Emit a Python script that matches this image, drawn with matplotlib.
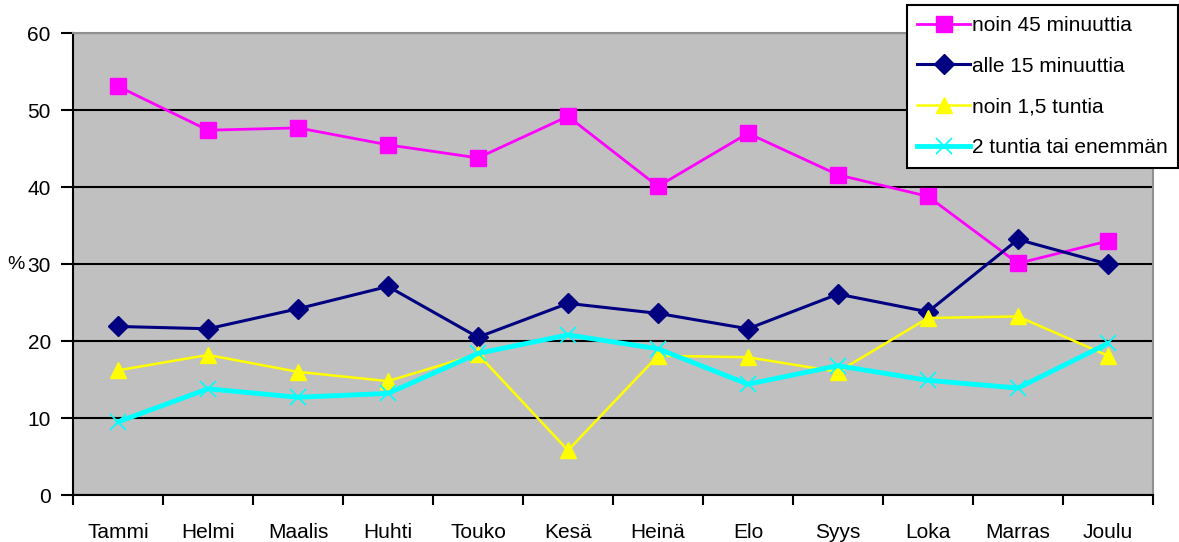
import matplotlib.pyplot as plt

plt.rcParams['font.family'] = ['Liberation Sans', 'DejaVu Sans']

months = ['Tammi', 'Helmi', 'Maalis', 'Huhti', 'Touko', 'Kesä',
          'Heinä', 'Elo', 'Syys', 'Loka', 'Marras', 'Joulu']

noin_45_min = [53.1, 47.4, 47.7, 45.5, 43.8, 49.2, 40.1, 47.0, 41.6, 38.8, 30.1, 33.0]
alle_15_min = [21.9, 21.6, 24.2, 27.1, 20.5, 24.9, 23.6, 21.6, 26.1, 23.8, 33.2, 30.0]
noin_15_h = [16.2, 18.2, 16.0, 14.8, 18.3, 5.8, 18.1, 17.9, 16.0, 23.0, 23.2, 18.1]
yli_2_h = [9.5, 13.8, 12.7, 13.2, 18.4, 20.8, 19.0, 14.4, 16.8, 14.9, 13.9, 19.7]

fig = plt.figure(figsize=(11.79, 5.42), dpi=100)
ax = fig.add_axes([0.0619, 0.0867, 0.916, 0.852])
ax.set_facecolor('#C0C0C0')

x = list(range(len(months)))
ax.plot(x, noin_45_min, color='#FF00FF', lw=2.0, marker='s', ms=11,
        label='noin 45 minuuttia')
ax.plot(x, alle_15_min, color='#000080', lw=2.2, marker='D', ms=10,
        label='alle 15 minuuttia')
ax.plot(x, noin_15_h, color='#FFFF00', lw=1.8, marker='^', ms=11,
        label='noin 1,5 tuntia')
ax.plot(x, yli_2_h, color='#00FFFF', lw=3.5, marker='x', ms=11, mew=1.2,
        label='2 tuntia tai enemmän')

ax.set_xlim(-0.5, len(months) - 0.5)
ax.set_ylim(0, 60)
ax.set_yticks(range(0, 61, 10))
ax.yaxis.grid(True, color='black', lw=1.5)
ax.set_axisbelow(True)

# month names centred, tick marks on the category borders
ax.set_xticks(x)
ax.set_xticklabels(months, fontsize=15)
ax.tick_params(axis='x', which='major', length=0, pad=20)
ax.set_xticks([i - 0.5 for i in range(len(months) + 1)], minor=True)
ax.tick_params(axis='x', which='minor', length=7, width=1.5, color='black')
ax.tick_params(axis='y', labelsize=15, length=9, width=1.5, pad=7)

for side in ['left', 'bottom']:
    ax.spines[side].set_color('black')
    ax.spines[side].set_linewidth(1.5)
for side in ['top', 'right']:
    ax.spines[side].set_color('#909090')
    ax.spines[side].set_linewidth(1.5)

ax.set_ylabel('%', rotation=0, fontsize=14, va='center', ha='center')
ax.yaxis.set_label_coords(-0.0525, 0.5)

leg = ax.legend(loc='upper right', bbox_to_anchor=(0.999, 0.99),
                bbox_transform=fig.transFigure, fontsize=15,
                fancybox=False, frameon=True, edgecolor='black',
                framealpha=1, handlelength=2.5, handletextpad=0.1,
                labelspacing=1.05, borderpad=0.5, borderaxespad=0.0)
leg.get_frame().set_linewidth(1.5)

fig.savefig('out.png', dpi=100)
